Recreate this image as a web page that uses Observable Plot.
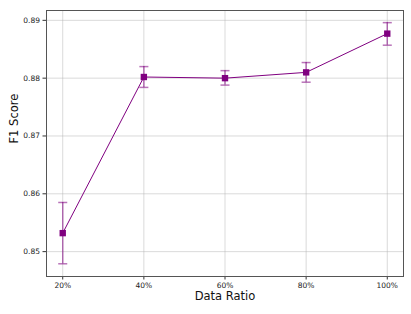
<!DOCTYPE html>
<html>
<head>
<meta charset="utf-8">
<script src="https://cdn.jsdelivr.net/npm/d3@7"></script>
<script src="https://cdn.jsdelivr.net/npm/@observablehq/plot@0.6"></script>
<style>
  html, body { margin: 0; padding: 0; background: #fff; }
</style>
</head>
<body>
<div id="chart"></div>
<script>
const ratios = [20, 40, 60, 80, 100];
const f1 = [0.8532, 0.8802, 0.8800, 0.8810, 0.8877];
const errLow = [0.8479, 0.8784, 0.8788, 0.8793, 0.8857];
const errHigh = [0.8585, 0.8820, 0.8813, 0.8827, 0.8896];
const yTicks = [0.85, 0.86, 0.87, 0.88, 0.89];
const xTicks = [20, 40, 60, 80, 100];

const data = ratios.map((r, i) => ({r, f1: f1[i], lo: errLow[i], hi: errHigh[i]}));

const capSymbol = {
  draw(ctx, size) {
    const w = Math.sqrt(size) / 2;
    ctx.moveTo(-w, 0);
    ctx.lineTo(w, 0);
  }
};

const font = "DejaVu Sans, sans-serif";

const chart = Plot.plot({
  width: 411,
  height: 314,
  marginLeft: 46,
  marginTop: 10,
  marginRight: 8,
  marginBottom: 38,
  style: {fontFamily: font, fontSize: "7.5px", color: "#222", background: "#fff"},
  x: {type: "linear", domain: [16, 104]},
  y: {domain: [0.8457, 0.8917]},
  marks: [
    Plot.gridX(xTicks, {stroke: "#b0b0b0", strokeOpacity: 0.6, strokeWidth: 0.8}),
    Plot.gridY(yTicks, {stroke: "#b0b0b0", strokeOpacity: 0.6, strokeWidth: 0.8}),
    Plot.axisX(xTicks, {tickFormat: d => d + "%", tickSize: 3.5, tickPadding: 2.5, label: null, stroke: "#333"}),
    Plot.axisY(yTicks, {tickFormat: d3.format(".2f"), tickSize: 3.5, tickPadding: 3, label: null, stroke: "#333"}),
    Plot.ruleX(data, {x: "r", y1: "lo", y2: "hi", stroke: "#800080", strokeOpacity: 0.55, strokeWidth: 1.5}),
    Plot.dot(data, {x: "r", y: "lo", symbol: capSymbol, r: 5.1, stroke: "#800080", strokeOpacity: 0.55, strokeWidth: 1.5, fill: "none"}),
    Plot.dot(data, {x: "r", y: "hi", symbol: capSymbol, r: 5.1, stroke: "#800080", strokeOpacity: 0.55, strokeWidth: 1.5, fill: "none"}),
    Plot.line(data, {x: "r", y: "f1", stroke: "#800080", strokeWidth: 1}),
    Plot.dot(data, {x: "r", y: "f1", symbol: "square", r: 3.6, fill: "#800080", stroke: "none"}),
    Plot.frame({stroke: "#555", strokeWidth: 1}),
    Plot.text(["Data Ratio"], {frameAnchor: "bottom", lineAnchor: "bottom", dy: 23, fontSize: 11.5, fill: "#111", text: d => d}),
    Plot.text(["F1 Score"], {frameAnchor: "left", dx: -32, rotate: -90, fontSize: 11.5, fill: "#111", text: d => d})
  ]
});
document.getElementById("chart").appendChild(chart);
</script>
</body>
</html>
